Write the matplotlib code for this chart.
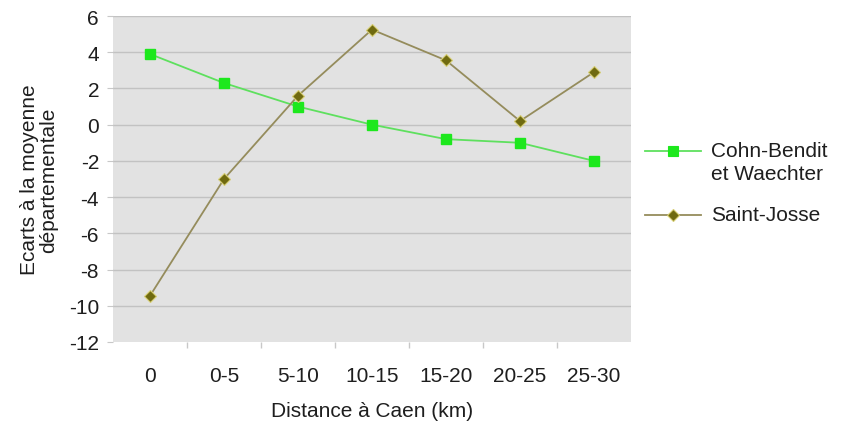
import matplotlib
matplotlib.use("Agg")
import matplotlib.pyplot as plt
from matplotlib.lines import Line2D
import numpy as np

plt.rcParams['font.family'] = ['Liberation Sans', 'DejaVu Sans']
plt.rcParams['axes.unicode_minus'] = False

categories = ['0', '0-5', '5-10', '10-15', '15-20', '20-25', '25-30']
cohn_bendit = [3.9, 2.3, 1.0, 0.0, -0.8, -1.0, -2.0]
saint_josse = [-9.45, -3.0, 1.6, 5.25, 3.55, 0.2, 2.9]

W, H = 849, 427
fig = plt.figure(figsize=(W / 100, H / 100), dpi=100)
ax = fig.add_axes([113 / W, 1 - 343 / H, 518 / W, 326 / H])

green_line = '#5ee05e'
green_mark = '#1de81d'
olive_line = '#958c5c'
olive_mark = '#6f6a10'
olive_edge = '#d6ce74'
txt = '#1e1e1e'
fs = 15

x = np.arange(len(categories))
ax.set_facecolor('#e2e2e2')
for yv in range(-10, 7, 2):
    ax.axhline(yv, color='#c2c2c2', lw=1.0, zorder=1)

ax.plot(x, cohn_bendit, color=green_line, lw=1.3, marker='s', ms=7.5,
        mfc=green_mark, mec=green_mark, zorder=3)
ax.plot(x, saint_josse, color=olive_line, lw=1.3, marker='D', ms=6.5,
        mfc=olive_mark, mec=olive_edge, mew=0.8, zorder=3)

ax.set_xlim(-0.5, len(categories) - 0.5)
ax.set_ylim(-12, 6)
ax.set_yticks(range(-12, 7, 2))
ax.set_xticks(x)
ax.set_xticklabels(categories)
ax.set_xticks(np.arange(0.5, len(categories) - 1, 1), minor=True)
ax.tick_params(axis='x', which='major', length=0, pad=17, labelsize=fs, colors=txt)
ax.tick_params(axis='x', which='minor', length=4, color='#c8c8c8', width=1)
ax.tick_params(axis='y', length=4, color='#c8c8c8', pad=6, labelsize=fs, labelcolor=txt)
for s in ax.spines.values():
    s.set_visible(False)

ax.set_xlabel('Distance à Caen (km)', fontsize=fs, color=txt, labelpad=12)
ax.set_ylabel('Ecarts à la moyenne\ndépartementale', fontsize=fs, color=txt,
              labelpad=8, linespacing=1.0)

# legend drawn by hand so the marker sits on the first text line
def fx(px):
    return px / W

def fy(py):
    return 1 - py / H

for col, mk, mfc, mec, ms, ypx in [(green_line, 's', green_mark, green_mark, 7.5, 152),
                                   (olive_line, 'D', olive_mark, olive_edge, 6.5, 216)]:
    fig.add_artist(Line2D([fx(645), fx(701)], [fy(ypx), fy(ypx)], color=col, lw=1.3,
                          transform=fig.transFigure))
    fig.add_artist(Line2D([fx(673)], [fy(ypx)], marker=mk, ms=ms, mfc=mfc, mec=mec,
                          mew=0.8, transform=fig.transFigure))
fig.text(fx(711), fy(152), 'Cohn-Bendit', fontsize=fs, color=txt, va='center')
fig.text(fx(711), fy(175), 'et Waechter', fontsize=fs, color=txt, va='center')
fig.text(fx(711), fy(216), 'Saint-Josse', fontsize=fs, color=txt, va='center')

fig.savefig('out.png', dpi=100, facecolor='white')
